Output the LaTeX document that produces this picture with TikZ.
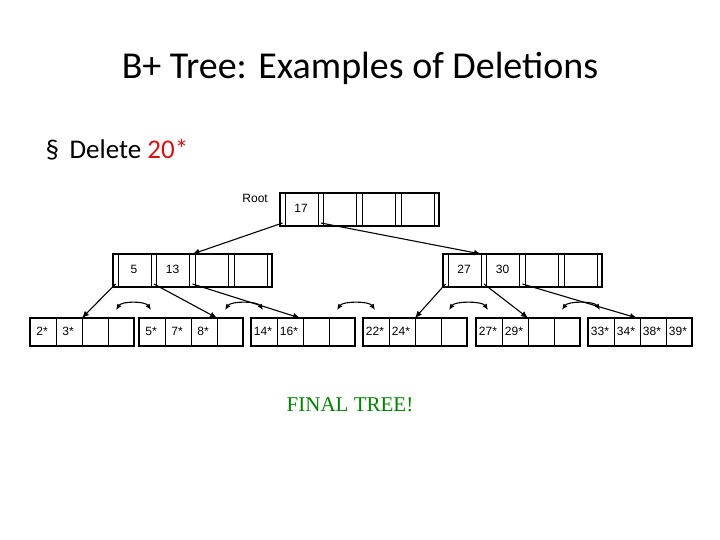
\documentclass[tikz,border=0pt]{standalone}
\usepackage{fontspec}
\usetikzlibrary{arrows.meta}
\setmainfont{Carlito}
\newfontfamily\arialf{Liberation Sans}
\newfontfamily\timesf{Liberation Serif}
\definecolor{fgreen}{RGB}{0,128,0}
\definecolor{dred}{RGB}{210,20,20}
\begin{document}
\begin{tikzpicture}[x=1pt,y=-1pt,
  box/.style={draw,line width=1.3pt},
  ptr/.style={line width=1.1pt,-{Latex[length=7pt,width=6pt]}},
  key/.style={font=\arialf\fontsize{12}{13}\selectfont,inner sep=0pt},
  sib/.style={line width=1.1pt,{Latex[length=6pt,width=5pt]}-{Latex[length=6pt,width=5pt]}}]
\useasboundingbox (0,0) rectangle (720,540);
\node[font=\fontsize{38}{42}\selectfont] (title) at (360,68) {B+ Tree: Examples of Deletions};
\node[font=\fontsize{27}{30}\selectfont,anchor=west] (del) at (42,150) {§ \,Delete \textcolor{dred}{20*}};
\newcommand\inode[4]{% name x y keys
  \draw[box] (#2,#3) rectangle ++(159,33);
  \foreach \o in {5,38,43,76,82,115,121,154} \draw[line width=1pt] (#2+\o,#3) -- ++(0,33);
  \foreach \k [count=\i from 0] in {#4} \node[key] at (#2+21+\i*38.5,#3+15) {\k};
  \foreach \i in {0,...,4} \coordinate (#1p\i) at (#2+2.5+\i*38.5,#3+30);
  \foreach \i in {0,...,4} \coordinate (#1t\i) at (#2+2.5+\i*38.5,#3);
}
\newcommand\leaf[4]{% name x y keys
  \draw[box] (#2,#3) rectangle ++(104,28);
  \foreach \o in {26,52,78} \draw[line width=1pt] (#2+\o,#3) -- ++(0,28);
  \foreach \k [count=\i from 0] in {#4} \node[key] at (#2+12+\i*26,#3+13) {\k};
  \coordinate (#1w) at (#2,#3);
  \coordinate (#1e) at (#2+104,#3);
  \foreach \i in {0,...,4} \coordinate (#1t\i) at (#2+\i*26,#3);
}
\inode{r}{280}{193}{17,{},{},{}}
\node[key,anchor=east] (rootlbl) at (268,198) {Root};
\inode{a}{113}{254}{5,13,{},{}}
\inode{b}{443}{254}{27,30,{},{}}
\leaf{l1}{30}{318}{2*,3*}
\leaf{l2}{139}{318}{5*,7*,8*}
\leaf{l3}{251}{318}{14*,16*}
\leaf{l4}{363}{318}{22*,24*}
\leaf{l5}{476}{318}{27*,29*}
\leaf{l6}{588}{318}{33*,34*,38*,39*}
\draw[ptr] (rp0) -- (at2);
\draw[ptr] (rp1) -- ([xshift=-3pt]bt1);
\draw[ptr] (ap0) -- (l1t2);
\draw[ptr] (ap1) -- (l2t3);
\draw[ptr] (ap2) -- ([xshift=-3pt]l3t2);
\draw[ptr] (bp0) -- (l4t2);
\draw[ptr] (bp1) -- (l5t2);
\draw[ptr] (bp2) -- ([xshift=-3pt]l6t2);
\foreach \p/\q in {l1/l2,l2/l3,l3/l4,l4/l5,l5/l6}
  \draw[sib] ([shift={(-18,-8)}]\p e) .. controls +(6,-9) and +(-6,-9) .. ([shift={(12,-8)}]\q w);
\node[font=\timesf\fontsize{21}{24}\selectfont,text=fgreen] (final) at (350,405) {FINAL TREE!};
\end{tikzpicture}
\end{document}
